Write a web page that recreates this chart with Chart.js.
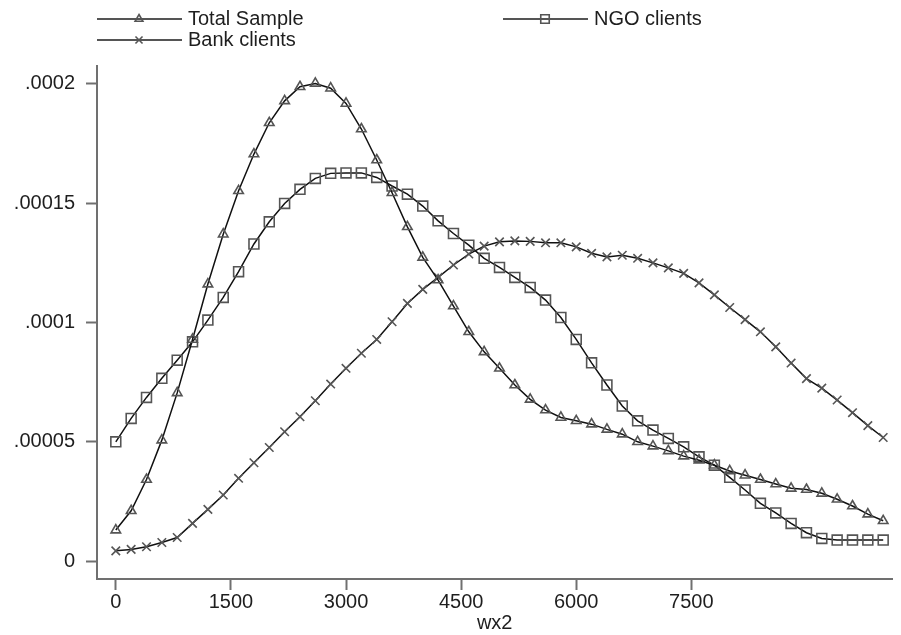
<!DOCTYPE html>
<html>
<head>
<meta charset="utf-8">
<script src="https://cdn.jsdelivr.net/npm/chart.js@4.4.1/dist/chart.umd.min.js"></script>
<style>
  html, body { margin: 0; padding: 0; background: #fff; }
  #wrap { width: 901px; height: 635px; position: relative; }
</style>
</head>
<body>
<div id="wrap"><canvas id="density-chart"></canvas></div>
<script>
// wx2 grid of the kernel density estimates
const xValues = [0, 200, 400, 600, 800, 1000, 1200, 1400, 1600, 1800,
    2000, 2200, 2400, 2600, 2800, 3000, 3200, 3400, 3600, 3800,
    4000, 4200, 4400, 4600, 4800, 5000, 5200, 5400, 5600, 5800,
    6000, 6200, 6400, 6600, 6800, 7000, 7200, 7400, 7600, 7800,
    8000, 8200, 8400, 8600, 8800, 9000, 9200, 9400, 9600, 9800, 10000];

// densities, in units of 0.00001
const totalSample = [1.30, 2.11, 3.42, 5.07, 7.05, 9.29, 11.61, 13.70, 15.52, 17.06,
    18.37, 19.29, 19.88, 20.02, 19.82, 19.18, 18.11, 16.81, 15.44, 14.01,
    12.73, 11.78, 10.69, 9.61, 8.77, 8.08, 7.38, 6.78, 6.33, 6.02,
    5.88, 5.74, 5.52, 5.32, 5.00, 4.82, 4.62, 4.40, 4.23, 4.02,
    3.78, 3.60, 3.42, 3.23, 3.05, 3.00, 2.84, 2.59, 2.31, 1.97, 1.69];
const ngoClients = [5.00, 5.98, 6.86, 7.66, 8.42, 9.19, 10.10, 11.05, 12.13, 13.29,
    14.22, 14.99, 15.58, 16.04, 16.25, 16.27, 16.27, 16.08, 15.72, 15.38,
    14.88, 14.26, 13.73, 13.24, 12.69, 12.31, 11.89, 11.47, 10.94, 10.21,
    9.29, 8.31, 7.38, 6.50, 5.88, 5.49, 5.14, 4.79, 4.37, 4.02,
    3.51, 2.98, 2.42, 2.02, 1.58, 1.19, 0.95, 0.88, 0.88, 0.88, 0.88];
const bankClients = [0.43, 0.49, 0.60, 0.78, 0.99, 1.58, 2.17, 2.77, 3.47, 4.12,
    4.76, 5.42, 6.05, 6.72, 7.42, 8.08, 8.71, 9.29, 10.03, 10.80,
    11.39, 11.89, 12.41, 12.87, 13.20, 13.38, 13.42, 13.40, 13.34, 13.34,
    13.17, 12.90, 12.75, 12.82, 12.69, 12.50, 12.29, 12.06, 11.66, 11.16,
    10.63, 10.12, 9.61, 8.98, 8.30, 7.65, 7.25, 6.75, 6.22, 5.68, 5.18];

const xTicks = [0, 1500, 3000, 4500, 6000, 7500];
const yTicks = [0, 0.00005, 0.0001, 0.00015, 0.0002];
const yTickLabels = ['0', '.00005', '.0001', '.00015', '.0002'];

const UNIT = 0.00001;
const FONT = { family: "'Liberation Sans', Arial, sans-serif", size: 20 };
const TEXT = '#1e1e1e';
const AXIS = '#707070';

function toPoints(vals) {
    return xValues.map((x, i) => ({ x: x, y: vals[i] * UNIT }));
}

function series(label, vals, style, radius) {
    return {
        label: label,
        data: toPoints(vals),
        showLine: true,
        borderColor: '#111',
        borderWidth: 1.5,
        tension: 0,
        pointStyle: style,
        pointRadius: radius,
        pointBorderColor: '#555',
        pointBorderWidth: 1.6,
        pointBackgroundColor: 'rgba(0,0,0,0)'
    };
}

// two-column Stata-style legend
const stataLegend = {
    id: 'stataLegend',
    afterDraw(chart) {
        const ctx = chart.ctx;
        const spots = [[97, 19], [503, 19], [97, 40]];
        chart.data.datasets.forEach((ds, i) => {
            const [x, y] = spots[i];
            ctx.save();
            ctx.strokeStyle = '#555';
            ctx.lineWidth = 2;
            ctx.beginPath();
            ctx.moveTo(x, y);
            ctx.lineTo(x + 85, y);
            ctx.stroke();
            ctx.strokeStyle = ds.pointBorderColor;
            ctx.fillStyle = 'rgba(0,0,0,0)';
            ctx.lineWidth = ds.pointBorderWidth;
            Chart.helpers.drawPoint(ctx, {
                pointStyle: ds.pointStyle,
                radius: ds.pointRadius - 1,
                rotation: 0,
                borderWidth: ds.pointBorderWidth
            }, x + 42, y);
            ctx.fillStyle = TEXT;
            ctx.font = FONT.size + 'px ' + FONT.family;
            ctx.textBaseline = 'middle';
            ctx.textAlign = 'left';
            ctx.fillText(ds.label, x + 91, y);
            ctx.restore();
        });
    }
};

new Chart(document.getElementById('density-chart'), {
    type: 'scatter',
    data: {
        datasets: [
            series('Total Sample', totalSample, 'triangle', 5.5),
            series('NGO clients', ngoClients, 'rect', 7),
            series('Bank clients', bankClients, 'crossRot', 6)
        ]
    },
    options: {
        responsive: true,
        maintainAspectRatio: false,
        animation: false,
        layout: { padding: { top: 66, right: 1, left: 0, bottom: 0 } },
        plugins: {
            legend: { display: false },
            tooltip: { enabled: false }
        },
        scales: {
            x: {
                type: 'linear',
                min: -245,
                max: 10120,
                afterBuildTicks: s => { s.ticks = xTicks.map(v => ({ value: v })); },
                afterFit: s => { s.height = 56; },
                ticks: {
                    autoSkip: false,
                    maxRotation: 0,
                    padding: 0,
                    color: TEXT,
                    font: FONT,
                    callback: v => String(v)
                },
                grid: { drawOnChartArea: false, tickLength: 11, tickColor: AXIS, tickWidth: 2 },
                border: { color: AXIS, width: 2 },
                title: { display: true, text: 'wx2', color: TEXT, font: FONT, padding: 0 }
            },
            y: {
                min: -0.0000075,
                max: 0.0002075,
                afterBuildTicks: s => { s.ticks = yTicks.map(v => ({ value: v })); },
                afterFit: s => { s.width = 97; },
                ticks: {
                    autoSkip: false,
                    padding: 11,
                    color: TEXT,
                    font: FONT,
                    callback: (v, i) => yTickLabels[i]
                },
                grid: { drawOnChartArea: false, tickLength: 11, tickColor: AXIS, tickWidth: 2 },
                border: { color: AXIS, width: 2 }
            }
        }
    },
    plugins: [stataLegend]
});
</script>
</body>
</html>
